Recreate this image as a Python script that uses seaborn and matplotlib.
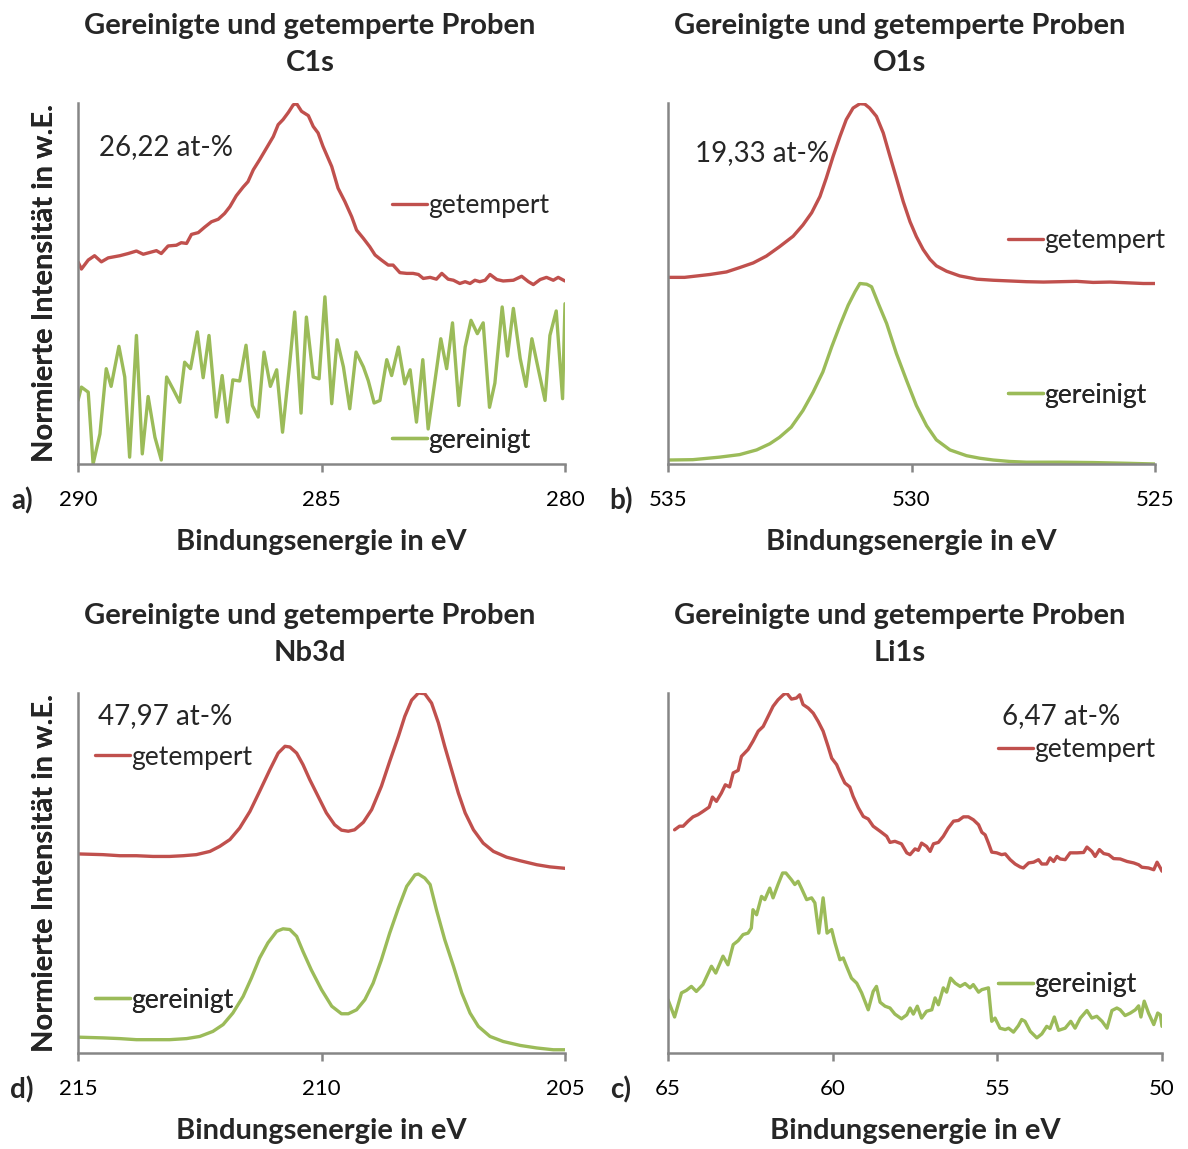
import numpy as np
import matplotlib
matplotlib.use("Agg")
import matplotlib.pyplot as plt
import seaborn as sns

# ---------------- C1s ----------------
c1s_e_temp = [290.00, 289.93, 289.79, 289.66, 289.52, 289.38, 289.14, 288.97, 288.80, 288.66,
              288.39, 288.29, 288.15, 287.98, 287.88, 287.77, 287.67, 287.53, 287.40, 287.26,
              287.12, 286.99, 286.88, 286.75, 286.61, 286.51, 286.40, 286.27, 286.13, 285.99,
              285.89, 285.79, 285.68, 285.58, 285.51, 285.41, 285.27, 285.17, 285.07, 284.97,
              284.79, 284.66, 284.52, 284.38, 284.28, 284.14, 284.01, 283.90, 283.77, 283.63,
              283.53, 283.39, 283.25, 283.12, 283.01, 282.91, 282.77, 282.64, 282.53, 282.40,
              282.29, 282.16, 282.05, 281.95, 281.85, 281.75, 281.64, 281.54, 281.40, 281.27,
              281.06, 280.89, 280.75, 280.65, 280.51, 280.38, 280.24, 280.14, 280.00]
c1s_i_temp = [0.560, 0.540, 0.565, 0.577, 0.560, 0.571, 0.577, 0.583, 0.590, 0.581,
              0.591, 0.583, 0.604, 0.606, 0.613, 0.611, 0.636, 0.641, 0.656, 0.671,
              0.678, 0.694, 0.713, 0.743, 0.767, 0.782, 0.815, 0.843, 0.875, 0.907,
              0.940, 0.954, 0.974, 0.995, 0.998, 0.977, 0.965, 0.935, 0.917, 0.880,
              0.824, 0.764, 0.727, 0.685, 0.648, 0.625, 0.602, 0.579, 0.565, 0.551,
              0.551, 0.530, 0.528, 0.528, 0.525, 0.514, 0.517, 0.512, 0.528, 0.512,
              0.509, 0.500, 0.505, 0.500, 0.509, 0.505, 0.509, 0.525, 0.511, 0.507,
              0.509, 0.520, 0.505, 0.497, 0.511, 0.517, 0.509, 0.517, 0.507]

c1s_e_rein = [290.00, 289.93, 289.79, 289.69, 289.55, 289.42, 289.32, 289.16, 289.04, 288.94,
              288.80, 288.68, 288.56, 288.42, 288.29, 288.18, 288.05, 287.91, 287.81, 287.69,
              287.55, 287.43, 287.31, 287.16, 287.04, 286.93, 286.82, 286.68, 286.55, 286.42,
              286.30, 286.18, 286.05, 285.92, 285.80, 285.66, 285.55, 285.42, 285.31, 285.17,
              285.05, 284.93, 284.79, 284.68, 284.55, 284.42, 284.29, 284.14, 284.04, 283.92,
              283.80, 283.66, 283.56, 283.42, 283.29, 283.18, 283.05, 282.92, 282.81, 282.67,
              282.55, 282.43, 282.31, 282.18, 282.05, 281.93, 281.80, 281.68, 281.55, 281.44,
              281.29, 281.18, 281.06, 280.92, 280.80, 280.68, 280.55, 280.41, 280.31, 280.18,
              280.05, 280.00]
c1s_i_rein = [0.176, 0.213, 0.199, 0.000, 0.083, 0.264, 0.215, 0.326, 0.241, 0.019,
              0.356, 0.028, 0.187, 0.074, 0.011, 0.241, 0.208, 0.171, 0.282, 0.264,
              0.366, 0.239, 0.356, 0.130, 0.245, 0.116, 0.233, 0.230, 0.329, 0.162,
              0.130, 0.310, 0.215, 0.261, 0.088, 0.269, 0.421, 0.141, 0.407, 0.241,
              0.236, 0.463, 0.167, 0.344, 0.269, 0.153, 0.310, 0.269, 0.231, 0.169,
              0.176, 0.289, 0.245, 0.324, 0.222, 0.261, 0.116, 0.289, 0.097, 0.231,
              0.347, 0.264, 0.391, 0.162, 0.324, 0.398, 0.361, 0.391, 0.157, 0.224,
              0.435, 0.299, 0.431, 0.292, 0.215, 0.347, 0.264, 0.176, 0.356, 0.424,
              0.181, 0.444]

# ---------------- O1s ----------------
o1s_e_temp = [535.00, 534.66, 534.14, 533.80, 533.53, 533.25, 532.98, 532.71, 532.43, 532.23,
              532.05, 531.88, 531.75, 531.61, 531.47, 531.34, 531.20, 531.06, 530.96, 530.86,
              530.72, 530.58, 530.45, 530.31, 530.17, 530.03, 529.90, 529.76, 529.62, 529.49,
              529.28, 529.01, 528.66, 528.32, 527.98, 527.64, 527.29, 526.95, 526.61, 526.27,
              525.92, 525.58, 525.24, 525.00]
o1s_i_temp = [0.517, 0.517, 0.525, 0.532, 0.544, 0.557, 0.576, 0.602, 0.631, 0.662,
              0.696, 0.741, 0.792, 0.852, 0.907, 0.954, 0.986, 0.998, 0.997, 0.986,
              0.963, 0.917, 0.856, 0.792, 0.727, 0.671, 0.630, 0.594, 0.567, 0.549,
              0.534, 0.521, 0.512, 0.509, 0.507, 0.505, 0.504, 0.505, 0.506, 0.503,
              0.504, 0.502, 0.500, 0.500]

o1s_e_rein = [535.00, 534.49, 533.94, 533.53, 533.18, 532.91, 532.71, 532.47, 532.23, 532.02,
              531.82, 531.64, 531.47, 531.30, 531.16, 531.06, 530.92, 530.82, 530.68, 530.51,
              530.31, 530.10, 529.90, 529.69, 529.49, 529.21, 528.87, 528.60, 528.32, 527.98,
              527.64, 526.95, 526.27, 525.58, 525.00]
o1s_i_rein = [0.011, 0.012, 0.019, 0.026, 0.039, 0.056, 0.074, 0.102, 0.148, 0.199,
              0.255, 0.324, 0.384, 0.440, 0.477, 0.500, 0.498, 0.491, 0.444, 0.389,
              0.306, 0.231, 0.162, 0.106, 0.067, 0.039, 0.023, 0.016, 0.011, 0.007,
              0.005, 0.005, 0.004, 0.002, 0.000]

# ---------------- Nb3d ----------------
nb3d_e_temp = [215.00, 214.49, 214.14, 213.80, 213.46, 213.12, 212.84, 212.57, 212.29, 212.09,
               211.88, 211.68, 211.47, 211.27, 211.06, 210.89, 210.75, 210.65, 210.51, 210.38,
               210.24, 210.07, 209.90, 209.73, 209.59, 209.45, 209.32, 209.14, 208.97, 208.77,
               208.60, 208.42, 208.29, 208.15, 208.01, 207.88, 207.74, 207.60, 207.47, 207.33,
               207.19, 207.05, 206.88, 206.68, 206.47, 206.20, 205.92, 205.58, 205.31, 205.00]
nb3d_i_temp = [0.553, 0.551, 0.548, 0.548, 0.546, 0.546, 0.548, 0.551, 0.560, 0.574,
               0.593, 0.625, 0.671, 0.727, 0.787, 0.833, 0.852, 0.850, 0.833, 0.801,
               0.759, 0.713, 0.667, 0.634, 0.619, 0.616, 0.620, 0.641, 0.676, 0.741,
               0.810, 0.880, 0.935, 0.980, 1.000, 0.998, 0.972, 0.917, 0.852, 0.787,
               0.722, 0.667, 0.620, 0.583, 0.560, 0.544, 0.534, 0.523, 0.517, 0.513]

nb3d_e_rein = [215.00, 214.49, 214.14, 213.80, 213.46, 213.12, 212.77, 212.50, 212.23, 212.02,
               211.82, 211.61, 211.44, 211.27, 211.10, 210.92, 210.79, 210.65, 210.51, 210.38,
               210.21, 210.00, 209.79, 209.59, 209.45, 209.28, 209.11, 208.94, 208.77, 208.60,
               208.42, 208.25, 208.08, 208.01, 207.88, 207.77, 207.64, 207.47, 207.29, 207.12,
               206.95, 206.78, 206.54, 206.27, 205.92, 205.58, 205.24, 205.00]
nb3d_i_rein = [0.044, 0.042, 0.040, 0.037, 0.037, 0.037, 0.040, 0.046, 0.060, 0.079,
               0.111, 0.157, 0.208, 0.264, 0.306, 0.338, 0.345, 0.343, 0.324, 0.282,
               0.231, 0.176, 0.130, 0.109, 0.109, 0.120, 0.148, 0.194, 0.259, 0.333,
               0.403, 0.463, 0.495, 0.497, 0.486, 0.468, 0.398, 0.315, 0.241, 0.167,
               0.111, 0.074, 0.046, 0.032, 0.021, 0.014, 0.009, 0.009]

# ---------------- Li1s ----------------
li1s_e_temp = [64.80, 64.65, 64.54, 64.39, 64.24, 64.09, 63.94, 63.75, 63.65, 63.53,
               63.38, 63.26, 63.13, 63.02, 62.87, 62.77, 62.57, 62.42, 62.26, 62.11,
               61.96, 61.81, 61.66, 61.50, 61.40, 61.25, 61.10, 61.00, 60.90, 60.74,
               60.59, 60.44, 60.29, 60.14, 60.03, 59.88, 59.73, 59.63, 59.48, 59.38,
               59.22, 59.07, 58.92, 58.77, 58.56, 58.36, 58.26, 58.11, 57.91, 57.75,
               57.65, 57.50, 57.40, 57.30, 57.15, 57.04, 56.94, 56.79, 56.64, 56.49,
               56.33, 56.18, 56.03, 55.88, 55.73, 55.57, 55.47, 55.37, 55.27, 55.17,
               55.02, 54.87, 54.76, 54.61, 54.46, 54.31, 54.21, 54.05, 53.90, 53.75,
               53.65, 53.50, 53.40, 53.29, 53.19, 53.09, 52.94, 52.79, 52.58, 52.38,
               52.28, 52.13, 52.03, 51.90, 51.77, 51.62, 51.47, 51.27, 51.06, 50.86,
               50.71, 50.61, 50.41, 50.25, 50.15, 50.05, 50.00]
li1s_i_temp = [0.620, 0.630, 0.630, 0.644, 0.656, 0.662, 0.671, 0.683, 0.711, 0.699,
               0.722, 0.745, 0.739, 0.778, 0.785, 0.824, 0.843, 0.866, 0.894, 0.907,
               0.935, 0.963, 0.981, 0.995, 1.000, 0.983, 0.986, 0.995, 0.968, 0.958,
               0.944, 0.921, 0.894, 0.852, 0.819, 0.801, 0.769, 0.750, 0.739, 0.713,
               0.681, 0.657, 0.650, 0.630, 0.616, 0.602, 0.585, 0.588, 0.581, 0.556,
               0.551, 0.567, 0.563, 0.583, 0.574, 0.560, 0.581, 0.585, 0.602, 0.625,
               0.644, 0.646, 0.656, 0.656, 0.648, 0.634, 0.613, 0.606, 0.583, 0.558,
               0.556, 0.551, 0.553, 0.537, 0.525, 0.517, 0.514, 0.528, 0.530, 0.537,
               0.525, 0.525, 0.542, 0.532, 0.546, 0.539, 0.537, 0.556, 0.556, 0.557,
               0.572, 0.560, 0.546, 0.565, 0.554, 0.551, 0.540, 0.539, 0.532, 0.528,
               0.523, 0.516, 0.514, 0.509, 0.530, 0.514, 0.505]

li1s_e_rein = [65.00, 64.80, 64.59, 64.44, 64.29, 64.14, 63.94, 63.68, 63.55, 63.33,
               63.18, 63.02, 62.87, 62.72, 62.57, 62.47, 62.42, 62.31, 62.16, 62.06,
               61.91, 61.81, 61.66, 61.52, 61.42, 61.25, 61.15, 61.05, 60.95, 60.79,
               60.64, 60.54, 60.42, 60.29, 60.17, 60.03, 59.93, 59.78, 59.68, 59.58,
               59.43, 59.27, 59.12, 58.92, 58.77, 58.67, 58.56, 58.41, 58.26, 58.11,
               57.91, 57.75, 57.65, 57.55, 57.43, 57.30, 57.15, 56.99, 56.89, 56.79,
               56.64, 56.54, 56.42, 56.28, 56.13, 55.98, 55.83, 55.73, 55.57, 55.47,
               55.27, 55.17, 55.07, 54.92, 54.76, 54.66, 54.51, 54.36, 54.26, 54.16,
               54.00, 53.80, 53.65, 53.50, 53.40, 53.27, 53.14, 52.94, 52.77, 52.64,
               52.48, 52.28, 52.13, 51.98, 51.82, 51.67, 51.52, 51.37, 51.27, 51.12,
               50.96, 50.81, 50.71, 50.64, 50.54, 50.41, 50.25, 50.13, 50.05, 50.00]
li1s_i_rein = [0.148, 0.100, 0.167, 0.174, 0.185, 0.171, 0.190, 0.241, 0.222, 0.269,
               0.245, 0.301, 0.312, 0.329, 0.333, 0.347, 0.398, 0.384, 0.435, 0.426,
               0.458, 0.431, 0.468, 0.500, 0.500, 0.481, 0.468, 0.477, 0.458, 0.426,
               0.431, 0.417, 0.333, 0.431, 0.333, 0.343, 0.306, 0.259, 0.264, 0.241,
               0.208, 0.194, 0.167, 0.120, 0.171, 0.185, 0.141, 0.130, 0.125, 0.108,
               0.095, 0.106, 0.125, 0.108, 0.130, 0.097, 0.116, 0.120, 0.153, 0.134,
               0.181, 0.169, 0.208, 0.194, 0.185, 0.193, 0.181, 0.190, 0.169, 0.176,
               0.181, 0.088, 0.097, 0.069, 0.065, 0.069, 0.058, 0.076, 0.093, 0.088,
               0.060, 0.042, 0.053, 0.074, 0.068, 0.100, 0.063, 0.069, 0.088, 0.069,
               0.097, 0.118, 0.097, 0.102, 0.088, 0.069, 0.118, 0.125, 0.120, 0.104,
               0.111, 0.120, 0.131, 0.100, 0.144, 0.111, 0.079, 0.111, 0.106, 0.074]

# ---------------- panel setup ----------------
title_line = "Gereinigte und getemperte Proben"
series_names = ["getempert", "gereinigt"]
red = "#C0504D"
green = "#9BBB59"
axis_grey = "#868686"

panels = [
    dict(tag="a)", name="C1s", et=c1s_e_temp, it=c1s_i_temp, er=c1s_e_rein, ir=c1s_i_rein,
         xlim=(290, 280), ticks=[290, 285, 280], conc="26,22 at-%", cpos=(0.043, 0.878),
         lpos=[(0.645, 0.715), (0.645, 0.066)], rect=[78, 103, 565, 464], tcx=310),
    dict(tag="b)", name="O1s", et=o1s_e_temp, it=o1s_i_temp, er=o1s_e_rein, ir=o1s_i_rein,
         xlim=(535, 525), ticks=[535, 530, 525], conc="19,33 at-%", cpos=(0.055, 0.861),
         lpos=[(0.698, 0.618), (0.698, 0.191)], rect=[668, 103, 1155, 464], tcx=900),
    dict(tag="d)", name="Nb3d", et=nb3d_e_temp, it=nb3d_i_temp, er=nb3d_e_rein, ir=nb3d_i_rein,
         xlim=(215, 205), ticks=[215, 210, 205], conc="47,97 at-%", cpos=(0.041, 0.936),
         lpos=[(0.035, 0.822), (0.035, 0.147)], rect=[78, 693, 565, 1053], tcx=310),
    dict(tag="c)", name="Li1s", et=li1s_e_temp, it=li1s_i_temp, er=li1s_e_rein, ir=li1s_i_rein,
         xlim=(65, 50), ticks=[65, 60, 55, 50], conc="6,47 at-%", cpos=(0.676, 0.936),
         lpos=[(0.668, 0.842), (0.668, 0.189)], rect=[668, 693, 1162, 1053], tcx=900),
]

sns.set_theme(style="white")
plt.rcParams["font.family"] = ["Lato", "DejaVu Sans"]

W, H = 1188, 1149
fig = plt.figure(figsize=(W / 100, H / 100), dpi=100)
fig.patch.set_facecolor("white")

for p in panels:
    x0, y0, x1, y1 = p["rect"]
    aw = x1 - x0
    ah = y1 - y0
    ax = fig.add_axes([x0 / W, 1 - y1 / H, aw / W, ah / H])
    ax.set_facecolor("white")

    sns.lineplot(x=p["et"], y=p["it"], ax=ax, color=red, lw=2.4, estimator=None,
                 label=series_names[0], legend=False)
    sns.lineplot(x=p["er"], y=p["ir"], ax=ax, color=green, lw=2.4, estimator=None,
                 label=series_names[1], legend=False)

    ax.set_xlim(*p["xlim"])
    ax.set_ylim(0, 1)
    ax.set_xticks(p["ticks"])
    ax.set_xticklabels([str(t) for t in p["ticks"]])
    ax.set_yticks([])
    ax.tick_params(axis="x", direction="out", length=6, width=1.8, color=axis_grey,
                   labelsize=16, pad=13, bottom=True, labelcolor="black")
    for side in ["top", "right"]:
        ax.spines[side].set_visible(False)
    for side in ["left", "bottom"]:
        ax.spines[side].set_color(axis_grey)
        ax.spines[side].set_linewidth(1.8)

    ax.set_xlabel("Bindungsenergie in eV", fontsize=21, fontweight="bold")
    ax.xaxis.set_label_coords(0.5, -65 / ah)
    ax.set_ylabel("Normierte Intensität in w.E.", fontsize=21, fontweight="bold")
    ax.yaxis.set_label_coords(-(x0 - 58) / aw, 0.5)

    # two-line panel title
    tx = (p["tcx"] - x0) / aw
    ax.text(tx, 1 + 77 / ah, title_line, transform=ax.transAxes, ha="center",
            va="center", fontsize=21, fontweight="bold")
    ax.text(tx, 1 + 40 / ah, p["name"], transform=ax.transAxes, ha="center",
            va="center", fontsize=21, fontweight="bold")

    # atomic concentration
    ax.text(p["cpos"][0], p["cpos"][1], p["conc"], transform=ax.transAxes, ha="left",
            va="center", fontsize=20)

    # inline series labels
    lines = ax.get_lines()
    for line, name, pos in zip(lines, series_names, p["lpos"]):
        leg = ax.legend([line], [name], loc="center left", bbox_to_anchor=pos,
                        frameon=False, fontsize=19, handlelength=1.33,
                        handletextpad=0.05, borderpad=0, borderaxespad=0)
        ax.add_artist(leg)

    tag_x = 22 if x0 < 300 else 621
    fig.text(tag_x / W, 1 - (y1 + 37) / H, p["tag"], ha="center", va="center",
             fontsize=20, fontweight="bold")

fig.savefig("out.png", dpi=100)
